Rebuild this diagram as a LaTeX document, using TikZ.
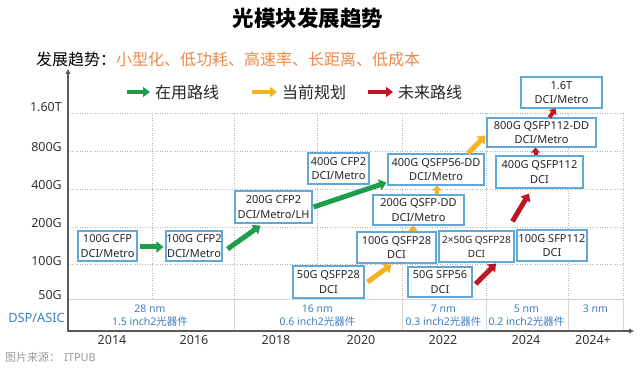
\documentclass[tikz,border=0pt]{standalone}
\usepackage{fontspec}
\setmainfont{Noto Sans}
\newfontfamily\cjk{Noto Sans CJK SC}
\usetikzlibrary{arrows.meta,calc}
\definecolor{boxc}{HTML}{62A8D6}
\definecolor{txt}{HTML}{262626}
\definecolor{greenc}{HTML}{1E9E4A}
\definecolor{yellowc}{HTML}{F5B324}
\definecolor{redc}{HTML}{BE1622}
\definecolor{orangec}{HTML}{EC8A4C}
\definecolor{dspc}{HTML}{3F7FC1}
\definecolor{tickc}{HTML}{333333}
\definecolor{gridc}{HTML}{B5B5B5}
\definecolor{bandc}{HTML}{D5D5D5}
\definecolor{axc}{HTML}{5A5A5A}
\definecolor{srcc}{HTML}{9A9A9A}
\begin{document}
\begin{tikzpicture}[x=1pt,y=-1pt,
  box/.style={draw=boxc,fill=white,line width=1.1pt,inner sep=0pt,align=center,text=txt,font=\fontsize{11}{14.5}\selectfont},
  flow/.style={line width=5pt,-{Triangle[length=7pt,width=11pt]}},
  tiny/.style={line width=4pt,-{Triangle[length=5pt,width=9pt]}},
  legarr/.style={line width=4.5pt,-{Triangle[length=7pt,width=10pt]}},
  gridline/.style={draw=gridc,line width=0.6pt,dash pattern=on 1pt off 1.5pt},
  ticklbl/.style={anchor=east,inner sep=0pt,text=tickc,font=\fontsize{12.5}{14}\selectfont},
  yearlbl/.style={inner sep=0pt,text=tickc,font=\fontsize{12.5}{14}\selectfont},
  dsplbl/.style={inner sep=0pt,align=center,text=dspc,font=\fontsize{10.5}{13}\selectfont},
  leglbl/.style={anchor=west,inner sep=0pt,text=txt,font=\cjk\fontsize{16}{18}\selectfont}]
\useasboundingbox (0,0) rectangle (640,371);
\fill[white] (0,0) rectangle (640,371);

% title and headline
\node[text=black,font=\cjk\bfseries\fontsize{21.5}{24}\selectfont] (title) at (308,18) {光模块发展趋势};
\node[anchor=west,inner sep=0pt,text=black,font=\cjk\fontsize{16}{18}\selectfont] (trend) at (36,59) {发展趋势：\textcolor{orangec}{小型化、低功耗、高速率、长距离、低成本}};

% legend
\coordinate (lg1a) at (127,92); \coordinate (lg1b) at (150,92);
\draw[legarr,greenc] (lg1a) -- (lg1b);
\node[leglbl] (leg1) at (155,92) {在用路线};
\coordinate (lg2a) at (252,92); \coordinate (lg2b) at (277,92);
\draw[legarr,yellowc] (lg2a) -- (lg2b);
\node[leglbl] (leg2) at (282,92) {当前规划};
\coordinate (lg3a) at (368,92); \coordinate (lg3b) at (393,92);
\draw[legarr,redc] (lg3a) -- (lg3b);
\node[leglbl] (leg3) at (398,92) {未来路线};

% grid
\foreach \yy in {113,151,189,227,264} \draw[gridline] (67,\yy) -- (623,\yy);
\foreach \xx in {152,234,317,402,486,568,623} \draw[gridline] (\xx,113) -- (\xx,299);
\draw[bandc,line width=0.7pt] (67,299) -- (623,299);
\foreach \xx in {234,402,486,568,623} \draw[bandc,line width=0.7pt] (\xx,299) -- (\xx,331);

% axes
\draw[axc,line width=1.3pt,-{Triangle[length=5pt,width=4.5pt]}] (68,331.5) -- (68,69);
\draw[axc,line width=1.3pt,-{Triangle[length=5pt,width=4.5pt]}] (67.4,331) -- (634,331);

% y labels
\node[ticklbl] (l160) at (62,107) {1.60T};
\node[ticklbl] (l800) at (62,147) {800G};
\node[ticklbl] (l400) at (62,185) {400G};
\node[ticklbl] (l200) at (62,223) {200G};
\node[ticklbl] (l100) at (62,261) {100G};
\node[ticklbl] (l50) at (62,295) {50G};
\node[anchor=east,inner sep=0pt,text=dspc,font=\fontsize{12.8}{14}\selectfont] (dsp) at (65,318) {DSP/ASIC};

% band texts
\node[dsplbl] (b1) at (150,315.5) {28 nm\\1.5 inch2{\cjk 光器件}};
\node[dsplbl] (b2) at (317.5,315.5) {16 nm\\0.6 inch2{\cjk 光器件}};
\node[dsplbl] (b3) at (443.5,315.5) {7 nm\\0.3 inch2{\cjk 光器件}};
\node[dsplbl] (b4) at (526.5,315.5) {5 nm\\0.2 inch2{\cjk 光器件}};
\node[dsplbl] (b5) at (595.5,309) {3 nm};

% years
\node[yearlbl] (y14) at (112,340) {2014};
\node[yearlbl] (y16) at (194,340) {2016};
\node[yearlbl] (y18) at (276,340) {2018};
\node[yearlbl] (y20) at (361,340) {2020};
\node[yearlbl] (y22) at (443,340) {2022};
\node[yearlbl] (y24) at (526,340) {2024};
\node[yearlbl] (y24p) at (593,340) {2024+};

% source
\node[anchor=west,inner sep=0pt,text=srcc,font=\fontsize{11}{13}\selectfont] (src) at (5,357) {{\cjk 图片来源：}\hspace{4pt}ITPUB};

% boxes
\node[box,minimum width=59pt,minimum height=30pt] (cfp) at (107.5,246) {100G CFP\\DCI/Metro};
\node[box,minimum width=56pt,minimum height=30pt] (cfp2) at (194,246) {100G CFP2\\DCI/Metro};
\node[box,minimum width=77pt,minimum height=32pt] (cfp2lh) at (273.5,207) {200G CFP2\\DCI/Metro/LH};
\node[box,minimum width=61pt,minimum height=31pt] (cfp2b) at (338.5,168.5) {400G CFP2\\DCI/Metro};
\node[box,minimum width=96pt,minimum height=31pt] (qsfp56dd) at (436,169.5) {400G QSFP56-DD\\DCI/Metro};
\node[box,minimum width=109pt,minimum height=29pt] (qsfp112dd) at (541.5,132.5) {800G QSFP112-DD\\DCI/Metro};
\node[box,minimum width=81pt,minimum height=31pt] (t16) at (561.5,92.5) {1.6T\\DCI/Metro};
\node[box,minimum width=87pt,minimum height=32pt] (qsfp112) at (539.5,172) {400G QSFP112\\DCI};
\node[box,minimum width=91pt,minimum height=30pt] (qsfpdd) at (418.5,210) {200G QSFP-DD\\DCI/Metro};
\node[box,minimum width=79pt,minimum height=31pt] (qsfp28) at (396.5,247.5) {100G QSFP28\\DCI};
\node[box,minimum width=75pt,minimum height=31pt,font=\fontsize{10}{14}\selectfont] (x2) at (476.5,246.5) {2×50G QSFP28\\DCI};
\node[box,minimum width=70pt,minimum height=31pt] (sfp112) at (552,245.5) {100G SFP112\\DCI};
\node[box,minimum width=71pt,minimum height=32pt] (q50) at (328.5,282) {50G QSFP28\\DCI};
\node[box,minimum width=64pt,minimum height=30pt] (sfp56) at (440,282) {50G SFP56\\DCI};

% green arrows
\draw[flow,greenc] ($(cfp.east)+(2,1)$) -- ($(cfp2.west)+(-2,1)$);
\draw[flow,greenc] ($(cfp2.east)+(5,3)$) -- ($(cfp2lh.south)+(-13,2)$);
\draw[flow,greenc] ($(cfp2lh.east)+(1,0)$) -- ($(qsfp56dd.south west)+(-1,-3)$);
% yellow arrows
\draw[flow,yellowc] ($(q50.east)+(3,0)$) -- ($(qsfp28.south)+(-5,1)$);
\draw[tiny,yellowc] ($(qsfp28.north)+(16.5,0)$) -- ($(qsfpdd.south)+(-5.5,0)$);
\draw[tiny,yellowc] ($(qsfpdd.north)+(18.5,0)$) -- ($(qsfp56dd.south)+(1,0)$);
\draw[flow,yellowc] ($(qsfp56dd.north)+(32,0)$) -- ($(qsfp112dd.west)+(-1,3)$);
% red arrows
\draw[flow,redc] ($(sfp56.east)+(3,2)$) -- ($(x2.south)+(19.5,1)$);
\draw[flow,redc] ($(sfp112.north west)+(-4,-8)$) -- ($(qsfp112.south)+(-10.5,5)$);
\draw[tiny,redc] ($(qsfp112.north)+(-4,0)$) -- ($(qsfp112dd.south)+(-6,0)$);
\draw[tiny,redc] ($(qsfp112dd.north)+(8,0)$) -- ($(t16.south)+(-6,0)$);
\end{tikzpicture}
\end{document}
